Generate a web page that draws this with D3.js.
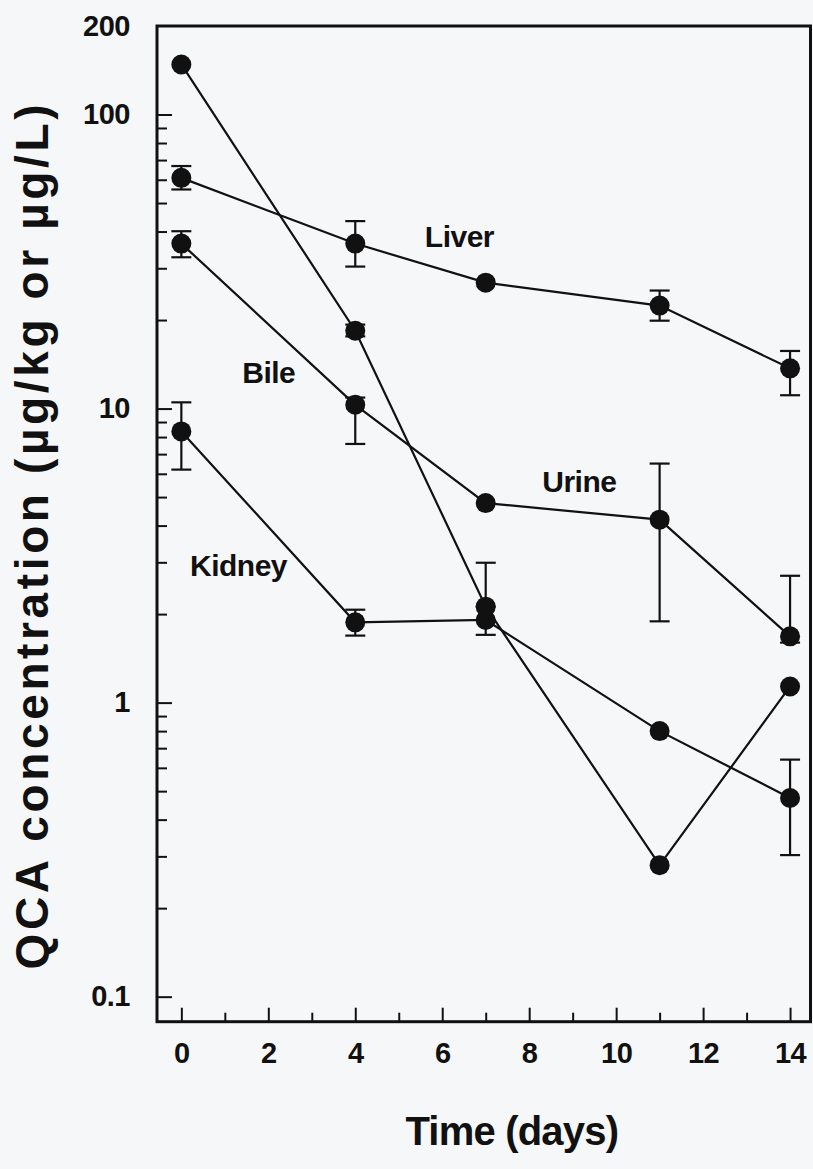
<!DOCTYPE html>
<html>
<head>
<meta charset="utf-8">
<script src="https://cdn.jsdelivr.net/npm/d3@7"></script>
<style>
  body { margin: 0; background: #f6f7f9; }
  text { font-family: "Liberation Sans", Arial, sans-serif; font-weight: bold; fill: #111; }
</style>
</head>
<body>
<svg id="chart" width="813" height="1169"></svg>
<script>
// sampling days
const days = [0, 4, 7, 11, 14]

// mean values per tissue (ug/kg or ug/L)
const liver = [60.9, 36.4, 26.8, 22.4, 13.7]
const liverHi = [66.8, 43.4, 26.8, 25.2, 15.7]
const liverLo = [55.6, 30.4, 26.8, 19.9, 11.1]

const urine = [36.4, 10.3, 4.77, 4.19, 1.68]
const urineHi = [40.1, 10.9, 4.77, 6.5, 2.7]
const urineLo = [32.7, 7.58, 4.77, 1.89, 1.6]

const bile = [148, 18.4, 2.12, 0.28, 1.135]
const bileHi = [148, 19.3, 2.99, 0.28, 1.135]
const bileLo = [148, 17.6, 2.12, 0.28, 1.135]

const kidney = [8.36, 1.875, 1.91, 0.8, 0.474]
const kidneyHi = [10.5, 2.07, 1.91, 0.8, 0.64]
const kidneyLo = [6.2, 1.69, 1.7, 0.8, 0.303]

// axis ticks
const xMajor = [0, 2, 4, 6, 8, 10, 12, 14]
const xMinor = [1, 3, 5, 7, 9, 11, 13]
const yMajor = [0.1, 1, 10, 100]
const yMinor = [0.2, 0.3, 0.4, 0.5, 0.6, 0.7, 0.8, 0.9, 2, 3, 4, 5, 6, 7, 8, 9, 20, 30, 40, 50, 60, 70, 80, 90]
const yLabels = [0.1, 1, 10, 100, 200]

// series labels
const seriesNames = ["Liver", "Urine", "Bile", "Kidney"]
const labelDay = [5.6, 8.3, 1.4, 0.2]
const labelVal = [35.3, 5.2, 12.2, 2.7]

const series = [
  {name: "Liver", v: liver, hi: liverHi, lo: liverLo},
  {name: "Urine", v: urine, hi: urineHi, lo: urineLo},
  {name: "Bile", v: bile, hi: bileHi, lo: bileLo},
  {name: "Kidney", v: kidney, hi: kidneyHi, lo: kidneyLo}
]

const svg = d3.select("#chart")

const x = d3.scaleLinear().domain([-0.56, 14.47]).range([157, 810.5])
const y = d3.scaleLog().domain([0.0822, 200]).range([1021.7, 26])

// frame
svg.append("rect")
  .attr("x", x(-0.56)).attr("y", y(200))
  .attr("width", x(14.47) - x(-0.56)).attr("height", y(0.0822) - y(200))
  .attr("fill", "none").attr("stroke", "#111").attr("stroke-width", 3)

// y ticks (inward)
function styleAxis(g){
  g.select(".domain").remove()
  g.selectAll(".tick line").attr("stroke", "#111").attr("stroke-width", 2)
}
function styleLabels(g){
  g.select(".domain").remove()
  g.attr("font-size", null).attr("font-family", null)
  g.selectAll("text").attr("font-size", 29).attr("fill", "#111").attr("letter-spacing", -0.5)
}
svg.append("g").attr("transform", `translate(${x(-0.56)},0)`)
  .call(d3.axisRight(y).tickValues(yMajor).tickSize(15).tickFormat(""))
  .call(styleAxis)
svg.append("g").attr("transform", `translate(${x(-0.56)},0)`)
  .call(d3.axisRight(y).tickValues(yMinor).tickSize(10).tickFormat(""))
  .call(styleAxis)
svg.append("g").attr("transform", `translate(${x(-0.56)},0)`)
  .call(d3.axisLeft(y).tickValues(yLabels).tickSize(0).tickPadding(27).tickFormat(d => d3.format("")(d)))
  .call(styleLabels)

// x ticks (inward)
svg.append("g").attr("transform", `translate(0,${y(0.0822)})`)
  .call(d3.axisTop(x).tickValues(xMajor).tickSize(14).tickFormat(""))
  .call(styleAxis)
svg.append("g").attr("transform", `translate(0,${y(0.0822)})`)
  .call(d3.axisTop(x).tickValues(xMinor).tickSize(9).tickFormat(""))
  .call(styleAxis)
svg.append("g").attr("transform", `translate(0,${y(0.0822)})`)
  .call(d3.axisBottom(x).tickValues(xMajor).tickSize(0).tickPadding(21))
  .call(styleLabels)

// lines, error bars, points
const line = d3.line().x((d, i) => x(days[i])).y(d => y(d))
series.forEach(s => {
  svg.append("path").datum(s.v).attr("d", line)
    .attr("fill", "none").attr("stroke", "#111").attr("stroke-width", 2.2)

  const eb = svg.append("g").selectAll("g")
    .data(days.map((d, i) => ({d, hi: s.hi[i], lo: s.lo[i]})).filter(e => e.hi !== e.lo))
    .enter().append("g").attr("stroke", "#111").attr("stroke-width", 2.2)
  eb.append("line").attr("x1", e => x(e.d)).attr("x2", e => x(e.d)).attr("y1", e => y(e.hi)).attr("y2", e => y(e.lo))
  eb.append("line").attr("x1", e => x(e.d) - 10).attr("x2", e => x(e.d) + 10).attr("y1", e => y(e.hi)).attr("y2", e => y(e.hi))
  eb.append("line").attr("x1", e => x(e.d) - 10).attr("x2", e => x(e.d) + 10).attr("y1", e => y(e.lo)).attr("y2", e => y(e.lo))

  svg.append("g").selectAll("circle").data(s.v).enter().append("circle")
    .attr("cx", (d, i) => x(days[i])).attr("cy", d => y(d)).attr("r", 10).attr("fill", "#111")
})

// series labels
svg.append("g").selectAll("text").data(seriesNames).enter().append("text")
  .attr("x", (d, i) => x(labelDay[i])).attr("y", (d, i) => y(labelVal[i]))
  .attr("font-size", 30).attr("letter-spacing", -0.5).text(d => d)

// axis titles
svg.append("text").attr("x", x(7.6)).attr("y", 1145).attr("text-anchor", "middle")
  .attr("font-size", 40).attr("letter-spacing", -0.8).text("Time (days)")
svg.append("text").attr("transform", "translate(48,537) rotate(-90)").attr("text-anchor", "middle")
  .attr("font-size", 46).attr("textLength", 865).attr("lengthAdjust", "spacing")
  .text("QCA concentration (µg/kg or µg/L)")
</script>
</body>
</html>
